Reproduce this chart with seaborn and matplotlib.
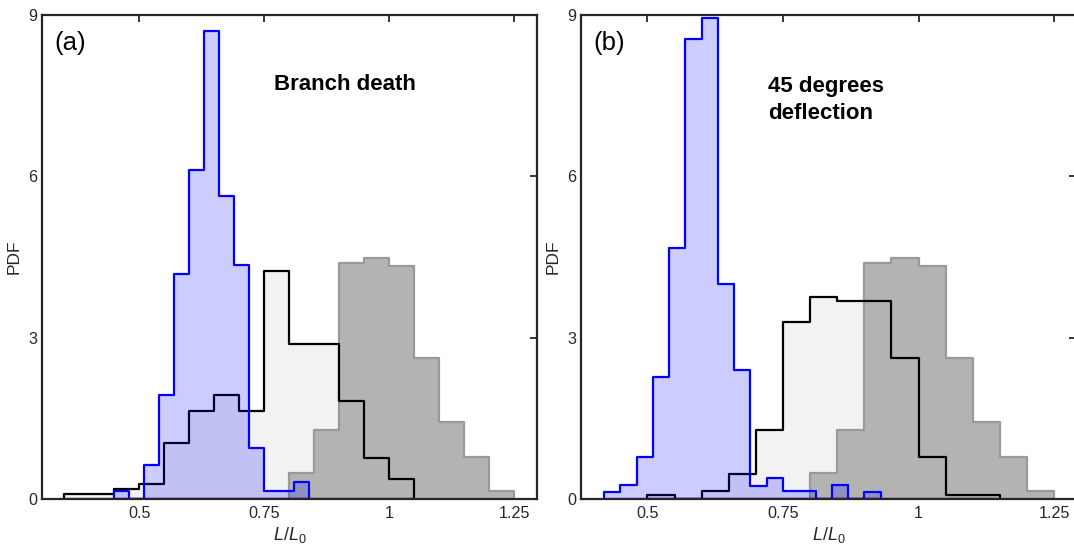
import numpy as np
import pandas as pd
import matplotlib
matplotlib.use("Agg")
import matplotlib.pyplot as plt
import seaborn as sns

# ---------------- data (PDF values per bin) ----------------
# reference distribution (dark grey), same in both panels
grey_edges = [0.80, 0.85, 0.90, 0.95, 1.00, 1.05, 1.10, 1.15, 1.20, 1.25]
grey_pdf = [0.48, 1.28, 4.40, 4.49, 4.34, 2.63, 1.44, 0.79, 0.16]

# panel (a): Branch death
a_black_edges = [0.35, 0.40, 0.45, 0.50, 0.55, 0.60, 0.65, 0.70, 0.75,
                 0.80, 0.85, 0.90, 0.95, 1.00, 1.05]
a_black_pdf = [0.09, 0.09, 0.19, 0.28, 1.05, 1.64, 1.93, 1.64, 4.25,
               2.89, 2.89, 1.83, 0.76, 0.38]
a_blue_edges = [0.45, 0.48, 0.51, 0.54, 0.57, 0.60, 0.63, 0.66, 0.69,
                0.72, 0.75, 0.78, 0.81, 0.84]
a_blue_pdf = [0.16, 0.0, 0.64, 1.93, 4.19, 6.12, 8.70, 5.64, 4.36,
              0.96, 0.16, 0.16, 0.32]

# panel (b): 45 degrees deflection
b_black_edges = [0.50, 0.55, 0.60, 0.65, 0.70, 0.75, 0.80, 0.85, 0.90,
                 0.95, 1.00, 1.05, 1.10, 1.15]
b_black_pdf = [0.08, 0.0, 0.16, 0.47, 1.28, 3.30, 3.76, 3.68, 3.68,
               2.63, 0.79, 0.08, 0.08]
b_blue_edges = [0.42, 0.45, 0.48, 0.51, 0.54, 0.57, 0.60, 0.63, 0.66,
                0.69, 0.72, 0.75, 0.78, 0.81, 0.84, 0.87, 0.90, 0.93]
b_blue_pdf = [0.13, 0.27, 0.79, 2.27, 4.67, 8.55, 8.95, 4.01, 2.40,
              0.25, 0.40, 0.15, 0.15, 0.0, 0.26, 0.0, 0.14]

x_ticks = [0.5, 0.75, 1.0, 1.25]
x_tick_labels = ["0.5", "0.75", "1", "1.25"]
y_ticks = [0, 3, 6, 9]
y_tick_labels = ["0", "3", "6", "9"]
panel_labels = ["(a)", "(b)"]
panel_titles = ["Branch death", "45 degrees\ndeflection"]
x_label = r"$\mathit{L}/\mathit{L}_0$"
y_label = "PDF"

# ---------------- style ----------------
sns.set_style("white")
plt.rcParams["font.family"] = ["Liberation Sans", "DejaVu Sans"]
plt.rcParams["mathtext.fontset"] = "custom"
plt.rcParams["mathtext.rm"] = "Liberation Sans"
plt.rcParams["mathtext.it"] = "Liberation Sans:italic"
plt.rcParams["mathtext.bf"] = "Liberation Sans:bold"

DARK = "#262626"
W, H = 1074, 551
fig = plt.figure(figsize=(W / 100, H / 100), dpi=100)

ax_w = 495.3 / W
ax_h = (499.3 - 15) / H
ax_bottom = (H - 499.3) / H
axes = [fig.add_axes([41.7 / W, ax_bottom, ax_w, ax_h]),
        fig.add_axes([580.7 / W, ax_bottom, ax_w, ax_h])]
xlims = [(0.305, 1.2955), (0.377, 1.2903)]


def hist(ax, edges, pdf, color, **kw):
    edge_list = [float(e) for e in edges]
    centers = [(edge_list[j] + edge_list[j + 1]) / 2 for j in range(len(pdf))]
    df = pd.DataFrame({"x": centers, "w": [float(p) for p in pdf]})
    sns.histplot(data=df, x="x", weights="w", bins=edge_list, stat="count",
                 element="step", fill=True, ax=ax, color=color, **kw)


panels = [
    (a_black_edges, a_black_pdf, a_blue_edges, a_blue_pdf),
    (b_black_edges, b_black_pdf, b_blue_edges, b_blue_pdf),
]

for i, (ax, (k_e, k_p, b_e, b_p)) in enumerate(zip(axes, panels)):
    # light grey fill of the black histogram
    hist(ax, k_e, k_p, "#f2f2f2", facecolor="#f2f2f2",
         edgecolor=(0, 0, 0, 0), linewidth=0)
    # reference (dark grey) histogram
    hist(ax, grey_edges, grey_pdf, "#b3b3b3", facecolor="#b3b3b3",
         edgecolor="#999999", linewidth=1.6)
    # black outline
    hist(ax, k_e, k_p, "black", facecolor=(0, 0, 0, 0), edgecolor="black",
         linewidth=1.6)
    # blue histogram
    hist(ax, b_e, b_p, "#0000ff", facecolor=(0, 0, 1, 0.2),
         edgecolor="#0000ff", linewidth=1.6)

    ax.set_xlim(*xlims[i])
    ax.set_ylim(0, 9)
    ax.set_xticks(x_ticks)
    ax.set_xticklabels(x_tick_labels)
    ax.set_yticks(y_ticks)
    ax.set_yticklabels(y_tick_labels)
    ax.tick_params(axis="both", which="major", direction="in", length=5,
                   width=1.3, color=DARK, labelcolor=DARK, labelsize=11.6,
                   top=True, right=True)
    ax.tick_params(axis="x", pad=5.0)
    ax.tick_params(axis="y", pad=3.0)
    for sp in ax.spines.values():
        sp.set_visible(True)
        sp.set_linewidth(1.6)
        sp.set_color(DARK)
        sp.set_zorder(5)
    ax.set_xlabel(x_label, fontsize=13, color=DARK, labelpad=3)
    ax.set_ylabel(y_label, fontsize=12.5, color=DARK, labelpad=5)
    ax.text(0.026, 0.966, panel_labels[i], transform=ax.transAxes,
            fontsize=18.5, ha="left", va="top", color="black")

axes[0].text(0.469, 0.879, panel_titles[0], transform=axes[0].transAxes,
             fontsize=16, fontweight="bold", ha="left", va="top",
             color="black")
axes[1].text(0.379, 0.874, panel_titles[1], transform=axes[1].transAxes,
             fontsize=16, fontweight="bold", ha="left", va="top",
             linespacing=1.4, color="black")

fig.savefig("out.png", dpi=100)
